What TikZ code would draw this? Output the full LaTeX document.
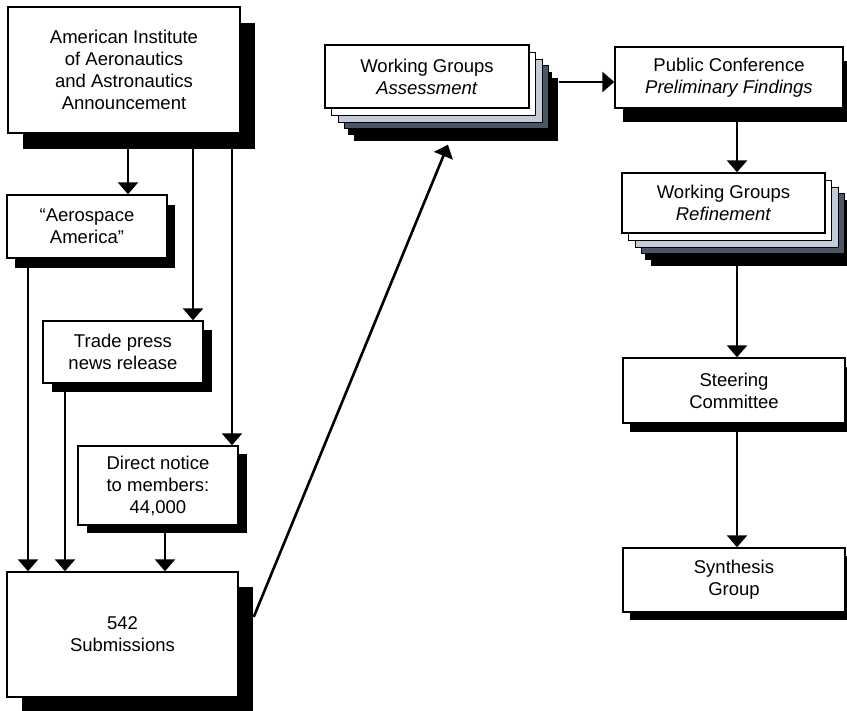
\documentclass[tikz,border=0pt]{standalone}
\usepackage{fontspec}
\setmainfont{Liberation Sans}
\usetikzlibrary{arrows.meta,shadows,calc}
\newcommand\boxfont{\fontsize{18.5}{22}\selectfont}
\definecolor{lightslate}{HTML}{C2CCD8}
\definecolor{darkslate}{HTML}{4A5666}
\begin{document}
\begin{tikzpicture}[x=1pt,y=-1pt,
  box/.style={draw=black, line width=1.4pt, fill=white, align=center, font=\boxfont, inner sep=0pt},
  shad/.style 2 args={general shadow={shadow xshift=#1pt, shadow yshift=-#2pt, fill=black, draw=none}},
  stack/.style={
    general shadow={shadow xshift=29pt, shadow yshift=-33pt, fill=black, draw=none},
    general shadow={shadow xshift=23pt, shadow yshift=-27pt, fill=black, draw=none},
    general shadow={shadow xshift=19pt, shadow yshift=-21pt, fill=darkslate, draw=black, line width=1pt},
    general shadow={shadow xshift=13pt, shadow yshift=-15pt, fill=lightslate, draw=black, line width=1pt},
    general shadow={shadow xshift=6pt, shadow yshift=-8pt, fill=white, draw=black, line width=1pt}},
  arr/.style={line width=2.6pt, -{Triangle[width=20pt,length=12pt]}}
]
\useasboundingbox (0,0) rectangle (847,711);
\clip (0,0) rectangle (847,711);

% left column
\node[box, shad={15}{16}, minimum width=232pt, minimum height=126pt] (aiaa) at (124,70)
  {American Institute\\of Aeronautics\\and Astronautics\\Announcement};
\node[box, shad={8}{10}, minimum width=160pt, minimum height=63pt] (aero) at (87,226.5)
  {``Aerospace\\America''};
\node[box, shad={9}{9}, minimum width=160pt, minimum height=62pt] (trade) at (123,352)
  {Trade press\\news release};
\node[box, shad={9}{8}, minimum width=160pt, minimum height=79pt] (direct) at (158,485.5)
  {Direct notice\\to members:\\44,000};
\node[box, shad={15}{15}, minimum width=231pt, minimum height=125pt] (sub) at (122.5,634.5)
  {542\\Submissions};

% right part
\node[box, stack, minimum width=204pt, minimum height=63pt] (wga) at (427,76.5)
  {Working Groups\\\textit{Assessment}};
\node[box, shad={8}{14}, minimum width=228pt, minimum height=61pt] (pc) at (729,77.5)
  {Public Conference\\\textit{Preliminary Findings}};
\node[box, stack, minimum width=203pt, minimum height=60pt] (wgr) at (723.5,203)
  {Working Groups\\\textit{Refinement}};
\node[box, shad={7}{9}, minimum width=222pt, minimum height=65pt] (sc) at (734,390.5)
  {Steering\\Committee};
\node[box, shad={7}{8}, minimum width=222pt, minimum height=64pt] (syn) at (734,580)
  {Synthesis\\Group};

% connectors
\coordinate (a1) at ([xshift=4pt,yshift=-14pt]aiaa.south);
\coordinate (a2) at ([xshift=69pt,yshift=-14pt]aiaa.south);
\coordinate (a3) at ([xshift=108pt,yshift=-14pt]aiaa.south);
\draw[arr] (a1) -- (a1 |- aero.north);
\draw[arr] (a2) -- (a2 |- trade.north);
\draw[arr] (a3) -- (a3 |- direct.north);

\coordinate (b1) at ([xshift=-59pt,yshift=-8pt]aero.south);
\coordinate (b2) at ([xshift=-58pt,yshift=-7pt]trade.south);
\coordinate (b3) at ([xshift=7pt,yshift=-6pt]direct.south);
\draw[arr] (b1) -- (b1 |- sub.north);
\draw[arr] (b2) -- (b2 |- sub.north);
\draw[arr] (b3) -- (b3 |- sub.north);

\coordinate (c1) at ([xshift=15pt,yshift=17.5pt]sub.east);
\coordinate (c2) at ([xshift=21pt,yshift=-36pt]wga.south);
\draw[arr] (c1) -- (c2);

\coordinate (d1) at ([xshift=29pt,yshift=-5.5pt]wga.east);
\draw[arr] (d1) -- (d1 -| pc.west);

\coordinate (e1) at ([xshift=8pt,yshift=-12pt]pc.south);
\draw[arr] (e1) -- (e1 |- wgr.north);
\coordinate (e2) at ([xshift=13.5pt,yshift=-31pt]wgr.south);
\draw[arr] (e2) -- (e2 |- sc.north);
\coordinate (e3) at ([xshift=3pt,yshift=-7pt]sc.south);
\draw[arr] (e3) -- (e3 |- syn.north);
\end{tikzpicture}
\end{document}
